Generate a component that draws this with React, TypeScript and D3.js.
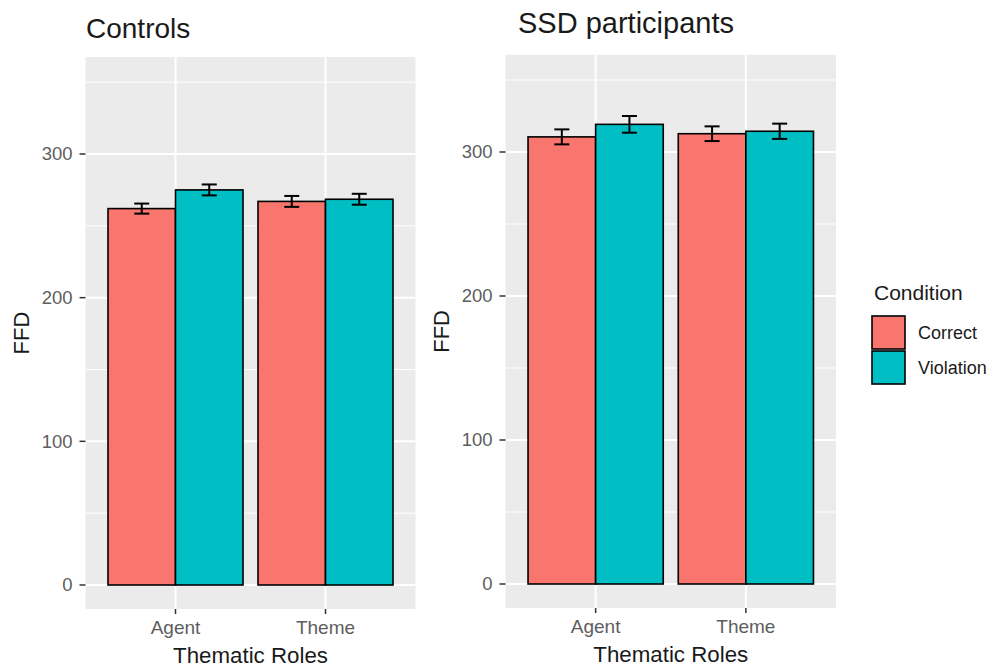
import React from "react";
import * as d3 from "d3";

// Thematic roles on the x axis and the two conditions (fill)
const roles = ["Agent", "Theme"];
const conditions = ["Correct", "Violation"];
const conditionColors = ["#F8766D", "#00BFC4"];

// Mean first fixation duration (FFD) by role, per condition, with standard errors
const controlsCorrect = [262, 267];
const controlsViolation = [275, 268.5];
const controlsCorrectSE = [3.5, 3.8];
const controlsViolationSE = [3.8, 3.8];

const ssdCorrect = [310.5, 312.7];
const ssdViolation = [319.2, 314.4];
const ssdCorrectSE = [5.2, 5.1];
const ssdViolationSE = [5.8, 5.3];

const majorTicks = [0, 100, 200, 300];
const minorTicks = [50, 150, 250, 350];

const FONT = "'Liberation Sans', Arial, Helvetica, sans-serif";

type PanelProps = {
  title: string;
  titleX: number;
  titleY: number;
  titleSize: number;
  means: number[][];
  ses: number[][];
  left: number;
  right: number;
  zeroY: number;
  y300: number;
  axisTitleX: number;
};

function Panel({
  title,
  titleX,
  titleY,
  titleSize,
  means,
  ses,
  left,
  right,
  zeroY,
  y300,
  axisTitleX,
}: PanelProps) {
  const y = d3.scaleLinear().domain([0, 300]).range([zeroY, y300]);
  const top = y(367.5);
  const bottom = y(-16.7);
  // ggplot-style discrete axis: categories at 1..n with 0.6 padding each side
  const x = d3.scaleLinear().domain([0.4, roles.length + 0.6]).range([left, right]);
  const bandUnit = x(2) - x(1);
  const barW = (0.9 * bandUnit) / conditions.length;
  const capW = 0.1 * bandUnit;

  return (
    <g>
      <text x={titleX} y={titleY} fontFamily={FONT} fontSize={titleSize} fill="#1a1a1a">
        {title}
      </text>
      <rect x={left} y={top} width={right - left} height={bottom - top} fill="#EBEBEB" />
      {minorTicks.map((t) => (
        <line key={"mi" + t} x1={left} x2={right} y1={y(t)} y2={y(t)} stroke="#fff" strokeWidth={1} />
      ))}
      {majorTicks.map((t) => (
        <line key={"ma" + t} x1={left} x2={right} y1={y(t)} y2={y(t)} stroke="#fff" strokeWidth={2} />
      ))}
      {roles.map((r, i) => (
        <line key={"vx" + r} x1={x(i + 1)} x2={x(i + 1)} y1={top} y2={bottom} stroke="#fff" strokeWidth={2} />
      ))}
      {roles.map((r, i) =>
        conditions.map((c, j) => {
          const v = means[j][i];
          const x0 = x(i + 1) - (0.9 * bandUnit) / 2 + j * barW;
          return (
            <rect
              key={r + c}
              x={x0}
              y={y(v)}
              width={barW}
              height={y(0) - y(v)}
              fill={conditionColors[j]}
              stroke="#000"
              strokeWidth={1.6}
            />
          );
        })
      )}
      {roles.map((r, i) =>
        conditions.map((c, j) => {
          const v = means[j][i];
          const se = ses[j][i];
          const cx = x(i + 1) - (0.9 * bandUnit) / 2 + (j + 0.5) * barW;
          return (
            <g key={"e" + r + c} stroke="#000" strokeWidth={2}>
              <line x1={cx} x2={cx} y1={y(v + se)} y2={y(v - se)} />
              <line x1={cx - capW / 2} x2={cx + capW / 2} y1={y(v + se)} y2={y(v + se)} />
              <line x1={cx - capW / 2} x2={cx + capW / 2} y1={y(v - se)} y2={y(v - se)} />
            </g>
          );
        })
      )}
      {majorTicks.map((t) => (
        <g key={"yt" + t}>
          <line x1={left - 6} x2={left} y1={y(t)} y2={y(t)} stroke="#333" strokeWidth={1.5} />
          <text
            x={left - 13}
            y={y(t)}
            dy="0.35em"
            textAnchor="end"
            fontFamily={FONT}
            fontSize={18.5}
            fill="#5e5e5e"
          >
            {t}
          </text>
        </g>
      ))}
      {roles.map((r, i) => (
        <g key={"xt" + r}>
          <line x1={x(i + 1)} x2={x(i + 1)} y1={bottom} y2={bottom + 5} stroke="#333" strokeWidth={1.5} />
          <text x={x(i + 1)} y={bottom + 25} textAnchor="middle" fontFamily={FONT} fontSize={19} fill="#5e5e5e">
            {r}
          </text>
        </g>
      ))}
      <text
        x={(left + right) / 2}
        y={bottom + 54}
        textAnchor="middle"
        fontFamily={FONT}
        fontSize={22.3}
        fill="#1a1a1a"
      >
        Thematic Roles
      </text>
      <text
        transform={`translate(${axisTitleX},${(top + bottom) / 2}) rotate(-90)`}
        textAnchor="middle"
        fontFamily={FONT}
        fontSize={22}
        fill="#1a1a1a"
      >
        FFD
      </text>
    </g>
  );
}

export default function App() {
  return (
    <svg
      width={995}
      height={668}
      style={{ position: "absolute", left: 0, top: 0, background: "#fff" }}
    >
      <rect width={995} height={668} fill="#fff" />
      <Panel
        title="Controls"
        titleX={86}
        titleY={38}
        titleSize={28}
        means={[controlsCorrect, controlsViolation]}
        ses={[controlsCorrectSE, controlsViolationSE]}
        left={85.5}
        right={415.5}
        zeroY={585}
        y300={154}
        axisTitleX={29}
      />
      <Panel
        title="SSD participants"
        titleX={518}
        titleY={33}
        titleSize={29}
        means={[ssdCorrect, ssdViolation]}
        ses={[ssdCorrectSE, ssdViolationSE]}
        left={505.5}
        right={836}
        zeroY={584}
        y300={152}
        axisTitleX={449}
      />
      <g>
        <text x={874} y={300} fontFamily={FONT} fontSize={21} fill="#1a1a1a">
          Condition
        </text>
        {conditions.map((c, j) => (
          <g key={c}>
            <rect
              x={872}
              y={316 + j * 35}
              width={33}
              height={33}
              fill={conditionColors[j]}
              stroke="#000"
              strokeWidth={1.6}
            />
            <text
              x={918}
              y={316 + j * 35 + 16.5}
              dy="0.35em"
              fontFamily={FONT}
              fontSize={18}
              fill="#1a1a1a"
            >
              {c}
            </text>
          </g>
        ))}
      </g>
    </svg>
  );
}
